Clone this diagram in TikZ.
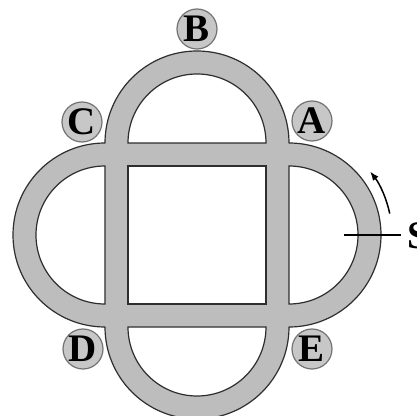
\documentclass[tikz,border=0pt]{standalone}
\usepackage{fontspec}
\setmainfont{Liberation Serif}
\usetikzlibrary{arrows.meta}
\tikzset{
  ringfill/.style={fill=black!26, draw=black!82, line width=1.2pt, line join=round},
  hole/.style={fill=white, draw=black!82, line width=1.2pt, line join=miter},
  lbl/.style={circle, minimum size=40pt, inner sep=0pt, fill=black!22, draw=black!55, line width=1.2pt,
     font=\fontsize{39}{39}\selectfont\bfseries},
  pointer/.style={draw=black, line width=1.5pt},
}
\begin{document}
\begin{tikzpicture}[x=1pt,y=1pt]
\path[use as bounding box, fill=white] (0,0) rectangle (416,416);
\begin{scope}[shift={(197,181)}]
  % outer contour of the gray band
  \path[ringfill] (92,92) arc[start angle=0,end angle=180,radius=92]
     arc[start angle=90,end angle=270,radius=92]
     arc[start angle=180,end angle=360,radius=92]
     arc[start angle=-90,end angle=90,radius=92] -- cycle;
  % white openings
  \path[hole] (-69,-69) rectangle (69,69);
  \path[hole] (69,92) arc[start angle=0,end angle=180,radius=69] -- cycle;
  \path[hole] (-92,69) arc[start angle=90,end angle=270,radius=69] -- cycle;
  \path[hole] (-69,-92) arc[start angle=180,end angle=360,radius=69] -- cycle;
  \path[hole] (92,-69) arc[start angle=-90,end angle=90,radius=69] -- cycle;
\end{scope}
% labels
\node[lbl] (B) at (197,387) {B};
\node[lbl] (A) at (312,295) {A};
\node[lbl] (C) at (82,294) {C};
\node[lbl] (D) at (83,67) {D};
\node[lbl] (E) at (312,67) {E};
% S marker
\node[anchor=base west, inner sep=0pt, outer sep=6pt, font=\fontsize{39}{39}\selectfont\bfseries] (S) at (401,167) {S};
\coordinate (sl) at (344,181);
\draw[pointer] (sl) -- (sl -| S.west);
% direction arrow
\coordinate (ac) at (289,181);
\draw[pointer, -{Latex[length=9pt,width=7pt]}] ([shift={(12:103)}]ac) arc[start angle=12,end angle=38,radius=103];
\end{tikzpicture}
\end{document}
